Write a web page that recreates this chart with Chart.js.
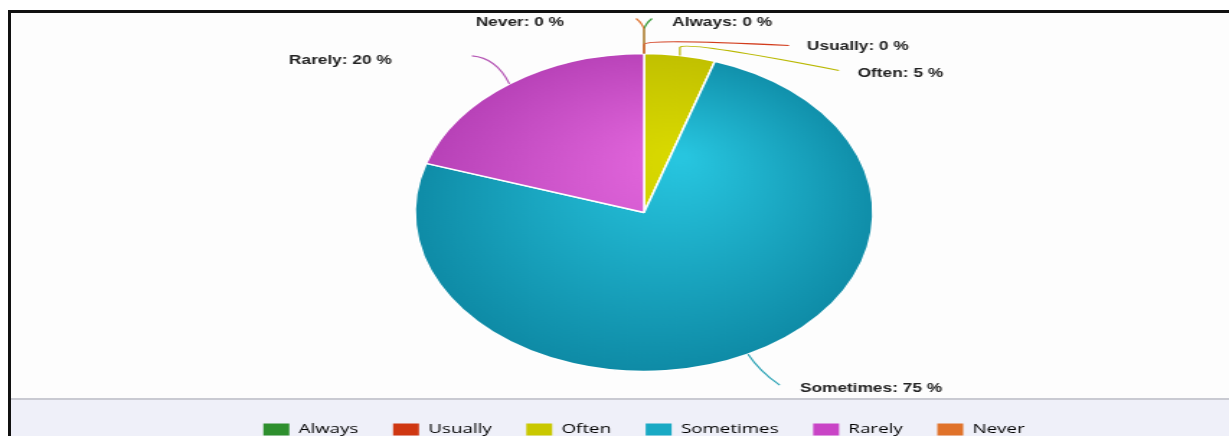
<!DOCTYPE html>
<html>
<head>
<meta charset="utf-8">
<script src="https://cdn.jsdelivr.net/npm/chart.js@4.4.0/dist/chart.umd.min.js"></script>
<style>
    html, body { margin: 0; padding: 0; width: 1229px; height: 436px; overflow: hidden; background: #ffffff; }
    #panel { position: absolute; left: 8px; top: 10px; right: 0; bottom: 0; border-top: 3px solid #111; border-left: 3px solid #111; background: #fdfdfd; }
    #band { position: absolute; left: 11px; top: 398px; right: 0; bottom: 0; background: #eff0f9; border-top: 2px solid #c9cad2; }
    #wrap { position: absolute; left: 0; top: 0; width: 853px; height: 446px; transform: scaleX(1.4408); transform-origin: 0 0; }
</style>
</head>
<body>
<div id="panel"></div>
<div id="band"></div>
<div id="wrap"><canvas id="pieChart" width="853" height="446"></canvas></div>
<script>
// ======================
// DONNEES
// ======================
const categories = ['Always', 'Usually', 'Often', 'Sometimes', 'Rarely', 'Never'];
const percentages = [0, 0, 5, 75, 20, 0];

// couleurs
const legendColors = ['#2e8f2e', '#cf3712', '#c9c800', '#19a9c4', '#c944c6', '#e0722a'];
const lightColors  = ['#3aa83a', '#e04a20', '#d9d900', '#27c5df', '#e468de', '#ee8a40'];
const darkColors   = ['#1f7a1f', '#b52a0c', '#bcbb00', '#0c85a0', '#b13cb2', '#c95e1c'];
const lineColors   = ['#3c9c3c', '#d23c1c', '#b9b800', '#2aa2b4', '#b455b4', '#e07a3a'];

// lignes de rappel : tige (sy), point de contrôle (cx, cy), fin (ex, ey), texte (tx, ty)
const leaderLayout = [
    { sy: -24, cx: 1,  cy: -30, ex: 5.5,   ey: -35, tx: 14,    ty: 4, align: 'left' },
    { sy: -9,  cx: 1,  cy: -15, ex: 100.6, ey: -8,  tx: 12.5,  ty: 1, align: 'left' },
    { sy: -8,  cx: 3,  cy: -15, ex: 110.4, ey: 15,  tx: 13,    ty: 3, align: 'left' },
    { sy: 0,   cx: 8,  cy: 17,  ex: 22,    ey: 31,  tx: 14,    ty: 4, align: 'left' },
    { sy: 0,   cx: -9, cy: -26, ex: -26,   ey: -28, tx: -55.6, ty: 5, align: 'right' },
    { sy: -24, cx: -1, cy: -30, ex: -5.5,  ey: -35, tx: -50,   ty: 4, align: 'right' }
];

function sliceFill(context) {
    const i = context.dataIndex;
    const chart = context.chart;
    const area = chart.chartArea;
    if (!area) return legendColors[i];
    const cx = (area.left + area.right) / 2;
    const cy = (area.top + area.bottom) / 2;
    const g = chart.ctx.createRadialGradient(cx + 25, cy - 55, 5, cx, cy, 180);
    g.addColorStop(0, lightColors[i]);
    g.addColorStop(1, darkColors[i]);
    return g;
}

// étiquettes avec lignes de rappel
const leaderLabels = {
    id: 'leaderLabels',
    afterDatasetsDraw(chart) {
        const ctx = chart.ctx;
        const arcs = chart.getDatasetMeta(0).data;
        ctx.save();
        arcs.forEach((arc, i) => {
            const lay = leaderLayout[i];
            const a = (arc.startAngle + arc.endAngle) / 2;
            const px = arc.x + Math.cos(a) * arc.outerRadius;
            const py = arc.y + Math.sin(a) * arc.outerRadius;
            const ex = px + lay.ex, ey = py + lay.ey;
            ctx.beginPath();
            ctx.moveTo(px, py);
            ctx.lineTo(px, py + lay.sy);
            ctx.quadraticCurveTo(px + lay.cx, py + lay.cy, ex, ey);
            ctx.strokeStyle = lineColors[i];
            ctx.lineWidth = 1.2;
            ctx.stroke();

            ctx.font = "bold 12px 'Liberation Sans', Arial, sans-serif";
            ctx.fillStyle = '#222222';
            ctx.textAlign = lay.align;
            ctx.textBaseline = 'middle';
            ctx.fillText(categories[i] + ': ' + percentages[i] + ' %', ex + lay.tx, ey + lay.ty);
        });
        ctx.restore();
    }
};

const ctx = document.getElementById('pieChart').getContext('2d');
const pieChartInstance = new Chart(ctx, {
    type: 'pie',
    data: {
        labels: categories,
        datasets: [{
            data: percentages,
            backgroundColor: sliceFill,
            borderColor: '#ffffff',
            borderWidth: 1.5,
            radius: 159
        }]
    },
    options: {
        responsive: false,
        animation: false,
        events: [],
        layout: { padding: { top: 26, left: 41, right: 0, bottom: 0 } },
        plugins: {
            tooltip: { enabled: false },
            legend: {
                position: 'bottom',
                labels: {
                    boxWidth: 18,
                    boxHeight: 12,
                    padding: 24,
                    color: '#333333',
                    font: { family: "'Open Sans', sans-serif", size: 13 },
                    generateLabels: function() {
                        return categories.map((c, i) => ({
                            text: c,
                            fillStyle: legendColors[i],
                            strokeStyle: legendColors[i],
                            lineWidth: 0,
                            hidden: false,
                            index: i
                        }));
                    }
                }
            }
        }
    },
    plugins: [leaderLabels]
});
</script>
</body>
</html>
